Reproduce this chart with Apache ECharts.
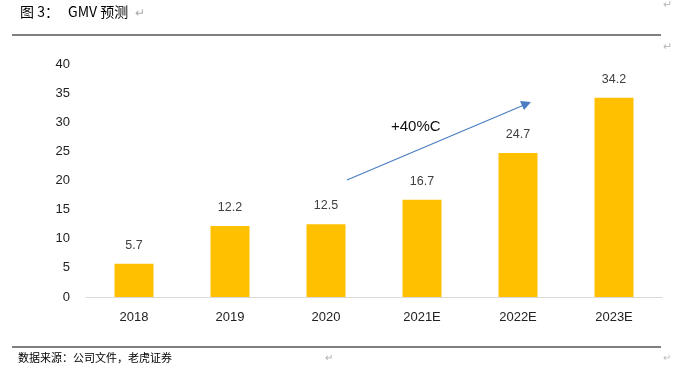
<!DOCTYPE html>
<html><head><meta charset="utf-8">
<script src="https://cdn.jsdelivr.net/npm/echarts@6/dist/echarts.min.js"></script>
<style>html,body{margin:0;padding:0;background:#fff}#c{width:678px;height:378px}</style>
</head><body><div id="c"></div>
<script>
var categories = ['2018','2019','2020','2021E','2022E','2023E'];
var gmv = [5.7, 12.2, 12.5, 16.7, 24.7, 34.2];
var yTicks = {min:0, max:40, interval:5};
var titleLabel = '图 3：';
var titleText = 'GMV 预测';
var sourceText = '数据来源：公司文件，老虎证券';
var growthText = '+40%C';

var chart = echarts.init(document.getElementById('c'));
var cjk = '"Noto Sans CJK SC", sans-serif';
var lat = '"Liberation Sans", Arial, sans-serif';
chart.setOption({
  animation:false,
  grid:{left:86, right:16, top:64, bottom:81},
  xAxis:{type:'category', data:categories,
    axisLine:{lineStyle:{color:'#d9d9d9', width:1}}, axisTick:{show:false},
    axisLabel:{color:'#222', fontSize:13, fontFamily:lat, margin:14}},
  yAxis:{type:'value', min:yTicks.min, max:yTicks.max, interval:yTicks.interval,
    splitLine:{show:false}, axisLine:{show:false}, axisTick:{show:false},
    axisLabel:{color:'#222', fontSize:13, fontFamily:lat, margin:16}},
  series:[{type:'bar', data:gmv, barWidth:39, itemStyle:{color:'#FFC000'},
    label:{show:true, position:'top', distance:12, color:'#404040', fontSize:12.5, fontFamily:lat}}],
  graphic:[
    {type:'text', left:20, top:5, style:{text:titleLabel, font:'14px '+cjk, fill:'#000'}},
    {type:'text', left:68, top:5, style:{text:titleText, font:'14px '+cjk, fill:'#000'}},
    {type:'text', left:135, top:6, style:{text:'↵', font:'12px '+cjk, fill:'#aaa'}},
    {type:'line', shape:{x1:12,y1:35,x2:661,y2:35}, style:{stroke:'#000', lineWidth:1.2}},
    {type:'text', left:663, top:-2, style:{text:'↵', font:'11px '+cjk, fill:'#bbb'}},
    {type:'text', left:663, top:40, style:{text:'↵', font:'11px '+cjk, fill:'#bbb'}},
    {type:'line', shape:{x1:12,y1:347,x2:661,y2:347}, style:{stroke:'#000', lineWidth:1.2}},
    {type:'text', left:18, top:352, style:{text:sourceText, font:'11px '+cjk, fill:'#000'}},
    {type:'text', left:325, top:352, style:{text:'↵', font:'10px '+cjk, fill:'#aaa'}},
    {type:'text', left:663, top:352, style:{text:'↵', font:'10px '+cjk, fill:'#bbb'}},
    {type:'line', shape:{x1:347,y1:180,x2:524,y2:105}, style:{stroke:'#4A7EC0', lineWidth:1.2}},
    {type:'polygon', shape:{points:[[531,102],[520,101],[524,110]]}, style:{fill:'#4A7EC0'}},
    {type:'text', left:391, top:119, style:{text:growthText, font:'15px '+lat, fill:'#111'}}
  ]
});
</script></body></html>
